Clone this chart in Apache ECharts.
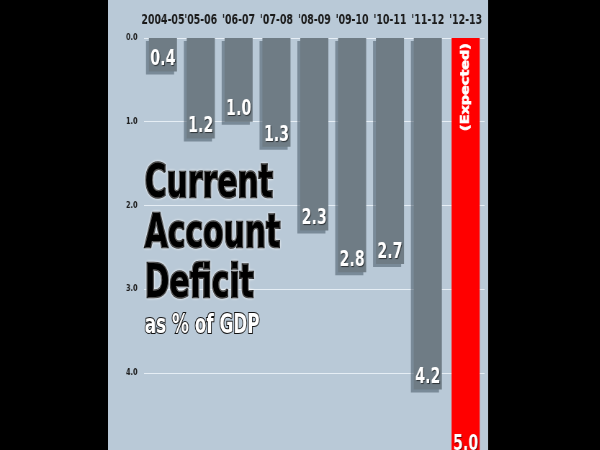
<!DOCTYPE html>
<html>
<head>
<meta charset="utf-8">
<script src="https://cdn.jsdelivr.net/npm/echarts@6/dist/echarts.min.js"></script>
<style>
html,body{margin:0;padding:0;background:#000;overflow:hidden;width:600px;height:450px;}
/* the whole chart is drawn wide and squeezed horizontally to get the poster's condensed lettering */
#c{width:833px;height:470px;transform:scaleX(0.72);transform-origin:0 0;}
</style>
</head>
<body>
<div id="c"></div>
<script>
const categories = ["2004-05", "'05-06", "'06-07", "'07-08", "'08-09", "'09-10", "'10-11", "'11-12", "'12-13"];
const deficit = [0.4, 1.2, 1.0, 1.3, 2.3, 2.8, 2.7, 4.2, 5.0];
const expectedIndex = 8;

const FONT = "'DejaVu Sans Condensed', 'DejaVu Sans', sans-serif";

const barData = deficit.map((v, i) => i === expectedIndex
  ? { value: v, itemStyle: { color: '#ff0000', shadowColor: 'rgba(0,0,0,0)' } }
  : v);
const expectedData = deficit.map((v, i) => i === expectedIndex ? v : null);

const chart = echarts.init(document.getElementById('c'));
chart.setOption({
  backgroundColor: '#000',
  animation: false,
  graphic: [{
    type: 'rect', z: -10, silent: true,
    shape: { x: 150, y: 0, width: 528, height: 470 },
    style: { fill: '#b9c9d7' }
  }],
  title: {
    text: 'Current\nAccount\nDeficit',
    subtext: 'as % of GDP',
    left: 201, top: 160, itemGap: 3, padding: 0,
    textStyle: {
      fontFamily: FONT, fontWeight: 'bold', fontSize: 46, lineHeight: 50,
      color: '#000', textBorderColor: '#000', textBorderWidth: 2.5,
      textShadowColor: 'rgba(255,255,255,0.95)', textShadowBlur: 3
    },
    subtextStyle: {
      fontFamily: FONT, fontWeight: 'bold', fontSize: 26, lineHeight: 26,
      color: '#fff', textBorderColor: '#111', textBorderWidth: 2
    }
  },
  grid: { left: 200, right: 160, top: 38, bottom: 13.5, containLabel: false },
  xAxis: {
    type: 'category', position: 'top', data: categories,
    axisLine: { show: false }, axisTick: { show: false },
    axisLabel: {
      interval: 0, margin: 10, color: '#1a1a1a',
      fontFamily: FONT, fontWeight: 'bold', fontSize: 14.5
    }
  },
  yAxis: {
    type: 'value', inverse: true, min: 0, max: 5, interval: 1,
    axisLine: { show: false }, axisTick: { show: false },
    axisLabel: {
      margin: 9, color: '#1e1e1e', fontFamily: 'DejaVu Sans', fontWeight: 'bold', fontSize: 9,
      formatter: v => v.toFixed(1)
    },
    splitLine: { lineStyle: { color: '#e6eef5', width: 1 } }
  },
  series: [{
    type: 'bar', data: barData, barWidth: 39,
    itemStyle: {
      color: '#6f7c85',
      shadowColor: 'rgba(70,85,100,0.55)', shadowOffsetX: -4, shadowOffsetY: 3, shadowBlur: 0
    },
    label: {
      show: true, position: 'insideBottom', distance: 1,
      color: '#fff', fontFamily: FONT, fontWeight: 'bold', fontSize: 22,
      textShadowColor: 'rgba(0,0,0,0.6)', textShadowOffsetX: 1, textShadowOffsetY: 1, textShadowBlur: 1,
      formatter: p => Number(p.value).toFixed(1)
    }
  }, {
    type: 'bar', data: expectedData, barWidth: 39, barGap: '-100%', z: 3,
    itemStyle: { color: 'rgba(0,0,0,0)' },
    label: {
      show: true, position: ['50%', 49], rotate: 90, align: 'center', verticalAlign: 'middle',
      color: '#fff', fontFamily: FONT, fontWeight: 'bold', fontSize: 16,
      textBorderColor: '#fff', textBorderWidth: 0.8,
      formatter: '(Expected)'
    }
  }]
});
</script>
</body>
</html>
